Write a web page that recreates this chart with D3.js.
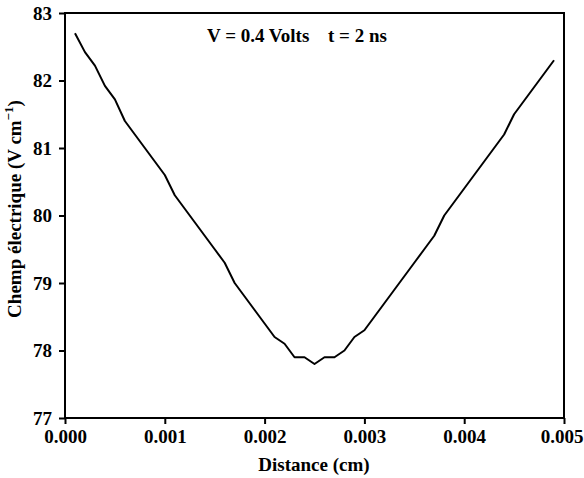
<!DOCTYPE html>
<html>
<head>
<meta charset="utf-8">
<script src="https://cdn.jsdelivr.net/npm/d3@7"></script>
<style>
  html, body { margin: 0; padding: 0; background: #fff; }
  svg text { font-family: "Liberation Serif", "Times New Roman", serif; font-weight: bold; fill: #000; }
</style>
</head>
<body>
<svg id="chart" width="584" height="478"></svg>
<script>
// Distance along the device (cm)
const distance = [
  0.0001, 0.0002, 0.0003, 0.0004, 0.0005, 0.0006, 0.0007, 0.0008, 0.0009, 0.0010,
  0.0011, 0.0012, 0.0013, 0.0014, 0.0015, 0.0016, 0.0017, 0.0018, 0.0019, 0.0020,
  0.0021, 0.0022, 0.0023, 0.0024, 0.0025, 0.0026, 0.0027, 0.0028, 0.0029, 0.0030,
  0.0031, 0.0032, 0.0033, 0.0034, 0.0035, 0.0036, 0.0037, 0.0038, 0.0039, 0.0040,
  0.0041, 0.0042, 0.0043, 0.0044, 0.0045, 0.0046, 0.0047, 0.0048, 0.0049
];
// Electric field (V cm^-1)
const field = [
  82.70, 82.42, 82.22, 81.92, 81.72, 81.40, 81.20, 81.00, 80.80, 80.60,
  80.30, 80.10, 79.90, 79.70, 79.50, 79.30, 79.00, 78.80, 78.60, 78.40,
  78.20, 78.10, 77.90, 77.90, 77.80, 77.90, 77.90, 78.00, 78.20, 78.30,
  78.50, 78.70, 78.90, 79.10, 79.30, 79.50, 79.70, 80.00, 80.20, 80.40,
  80.60, 80.80, 81.00, 81.20, 81.50, 81.70, 81.90, 82.10, 82.30
];
const xTicks = [0, 0.001, 0.002, 0.003, 0.004, 0.005];
const xTickLabels = ["0.000", "0.001", "0.002", "0.003", "0.004", "0.005"];
const yTicks = [77, 78, 79, 80, 81, 82, 83];

const svg = d3.select("#chart");
const m = { left: 65, right: 564, top: 13, bottom: 418 };
const fs = "19px";

const x = d3.scaleLinear().domain([0, 0.005]).range([m.left, m.right]);
const y = d3.scaleLinear().domain([77, 83]).range([m.bottom, m.top]);

// Bottom axis
const gx = svg.append("g")
  .attr("transform", `translate(0,${m.bottom})`)
  .call(d3.axisBottom(x).tickValues(xTicks)
    .tickFormat((d, i) => xTickLabels[i]).tickSize(6).tickPadding(6));
// Left axis
const gy = svg.append("g")
  .attr("transform", `translate(${m.left},0)`)
  .call(d3.axisLeft(y).tickValues(yTicks).tickFormat(d3.format("d")).tickSize(6).tickPadding(7));

[gx, gy].forEach(g => {
  g.select(".domain").remove();
  g.selectAll(".tick line").attr("stroke", "#000").attr("stroke-width", 2);
  g.selectAll(".tick text").style("font-size", fs).attr("fill", "#000");
});
// Keep the last x label inside the page edge
gx.selectAll(".tick text").filter(d => d === 0.005).attr("dx", -2.5);

// Frame around the plot
svg.append("rect")
  .attr("x", m.left).attr("y", m.top)
  .attr("width", m.right - m.left).attr("height", m.bottom - m.top)
  .attr("fill", "none").attr("stroke", "#000").attr("stroke-width", 2);

// Field profile
const line = d3.line().x((d, i) => x(distance[i])).y(d => y(d));
svg.append("path")
  .datum(field)
  .attr("d", line)
  .attr("fill", "none")
  .attr("stroke", "#000")
  .attr("stroke-width", 2)
  .attr("stroke-linejoin", "round");

// Conditions label
svg.append("text")
  .attr("x", 207).attr("y", 42)
  .style("font-size", fs)
  .text("V = 0.4 Volts");
svg.append("text")
  .attr("x", 328).attr("y", 42)
  .style("font-size", fs)
  .text("t = 2 ns");

// Axis titles
svg.append("text")
  .attr("x", 314).attr("y", 471)
  .attr("text-anchor", "middle")
  .style("font-size", fs)
  .text("Distance (cm)");

const yt = svg.append("text")
  .attr("transform", `translate(21,209) rotate(-90)`)
  .attr("text-anchor", "middle")
  .style("font-size", fs);
yt.append("tspan").text("Chemp électrique (V cm");
yt.append("tspan").attr("dy", -8).style("font-size", "13px").text("−1");
yt.append("tspan").attr("dy", 8).text(")");
</script>
</body>
</html>
